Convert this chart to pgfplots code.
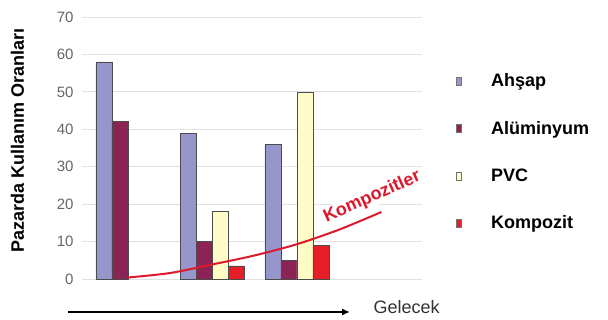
\documentclass[border=0pt]{standalone}
\usepackage{fontspec}
\setmainfont{Liberation Sans}
\usepackage{pgfplots}
\pgfplotsset{compat=1.18}
\usetikzlibrary{arrows.meta}
\definecolor{ahsap}{RGB}{150,150,205}
\definecolor{alum}{RGB}{140,35,85}
\definecolor{pvc}{RGB}{255,252,200}
\definecolor{komp}{RGB}{230,30,40}
\definecolor{curve}{RGB}{220,25,45}
\pgfplotsset{
  sqlegend/.style={legend image code/.code={\filldraw[fill=#1, draw=black!55, line width=0.4pt] (0pt,-4pt) rectangle (5pt,4pt);}}
}
\begin{document}
\begin{tikzpicture}[x=1pt,y=1pt]
\useasboundingbox (0,0) rectangle (608,320);
\begin{axis}[
  at={(82pt,41pt)}, anchor=south west,
  scale only axis, width=340pt, height=262pt,
  xmin=-0.544, xmax=3.48, ymin=0, ymax=70,
  ytick={0,10,...,70}, xtick=\empty,
  ymajorgrids, grid style={draw=black!12, line width=0.9pt},
  axis line style={draw=none}, major tick length=0pt,
  /pgf/number format/assume math mode=true,
  yticklabel style={font=\fontsize{15}{15}\selectfont, text=black!60, xshift=-5pt},
  ylabel={Pazarda Kullanım Oranları},
  ylabel style={font=\bfseries\fontsize{18}{18}\selectfont, at={(axis description cs:-0.19,0.53)}, anchor=center},
  clip=false,
  legend style={at={(axis description cs:1.09,0.80)}, anchor=north west, draw=none, fill=none,
    font=\bfseries\fontsize{18}{18}\selectfont, row sep=29pt, column sep=28pt},
  legend cell align=left,
]
\addplot[ybar, bar width=16pt, bar shift=-24pt, fill=ahsap, draw=black!70, line width=0.6pt, sqlegend=ahsap]
  coordinates {(0,58) (1,39) (2,36)};
\addplot[ybar, bar width=16pt, bar shift=-8pt, fill=alum, draw=black!70, line width=0.6pt, sqlegend=alum]
  coordinates {(0,42) (1,10) (2,5)};
\addplot[ybar, bar width=16pt, bar shift=8pt, fill=pvc, draw=black!70, line width=0.6pt, sqlegend=pvc]
  coordinates {(1,18) (2,50)};
\addplot[ybar, bar width=16pt, bar shift=24pt, fill=komp, draw=black!70, line width=0.6pt, sqlegend=komp]
  coordinates {(1,3.5) (2,9)};
\node[rotate=24, text=curve, fill=white, inner sep=1pt, font=\bfseries\fontsize{18}{18}\selectfont] at (axis cs:2.89,21.9) {Kompozitler};
\addplot[smooth, no markers, draw=curve, line width=2pt, forget plot]
  coordinates {(0,0.4) (0.5,1.6) (1,3.9) (1.5,6.3) (2,9.3) (2.5,13.2) (3,17.9)};
\legend{Ahşap, Alüminyum, PVC, Kompozit}
\end{axis}
\draw[-{Latex[length=8pt,width=7pt]}, line width=2pt] (68,8) -- (350,8);
\node[font=\fontsize{18}{18}\selectfont, text=black!80, anchor=west] at (370,13) {Gelecek};
\end{tikzpicture}
\end{document}
